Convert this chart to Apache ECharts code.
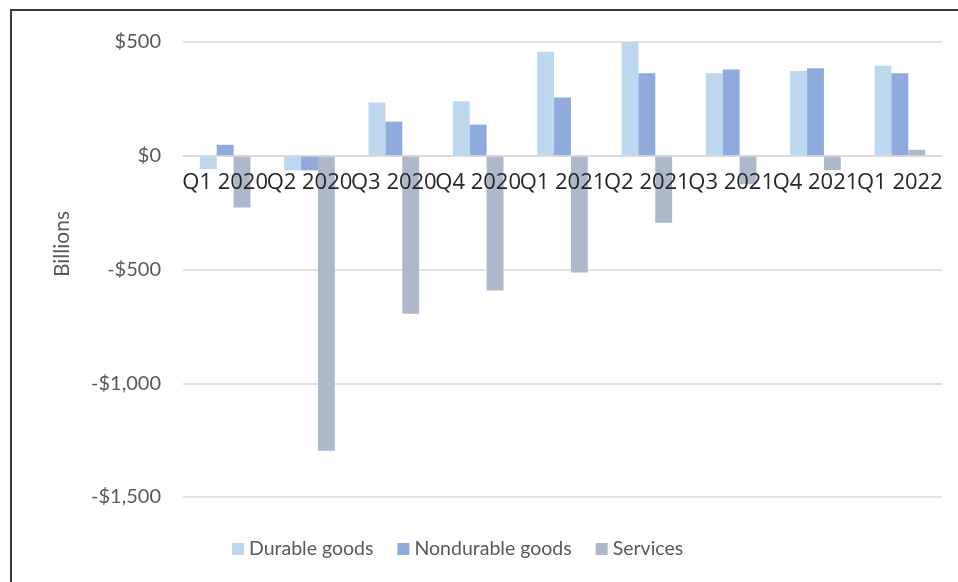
<!DOCTYPE html>
<html>
<head>
<meta charset="utf-8">
<script src="https://cdn.jsdelivr.net/npm/echarts@6/dist/echarts.min.js"></script>
<style>
html,body{margin:0;padding:0;background:#fff;}
#chart{width:958px;height:582px;}
</style>
</head>
<body>
<div id="chart"></div>
<script>
const categories = ['Q1 2020','Q2 2020','Q3 2020','Q4 2020','Q1 2021','Q2 2021','Q3 2021','Q4 2021','Q1 2022'];
const durableGoods = [-58, -64, 234, 240, 457, 501, 363, 373, 396];
const nondurableGoods = [48, -64, 150, 137, 256, 363, 379, 385, 363];
const services = [-227, -1297, -694, -592, -513, -294, -125, -63, 26];
const yTicks = {min: -1500, max: 500, interval: 500};

const FONT = 'Lato';
const chart = echarts.init(document.getElementById('chart'), null, {renderer: 'canvas'});
const fmt = v => {
  const a = Math.abs(v).toLocaleString('en-US');
  return (v < 0 ? '-$' : '$') + a;
};
// plot spans y=42 (top) to y=497 (bottom); category axis sits on the zero line
const gridTop = 42, gridBottomY = 497;
const zeroOffset = -(gridBottomY - gridTop) * (0 - yTicks.min) / (yTicks.max - yTicks.min);

chart.setOption({
  backgroundColor: '#ffffff',
  animation: false,
  textStyle: {fontFamily: FONT},
  grid: {left: 183, right: 16, top: gridTop, bottom: 582 - gridBottomY, containLabel: false},
  legend: {
    left: 227, top: 534,
    itemWidth: 12, itemHeight: 12, itemGap: 24,
    icon: 'rect',
    textStyle: {fontFamily: FONT, fontSize: 19.5, color: '#595959'},
    data: ['Durable goods', 'Nondurable goods', 'Services']
  },
  xAxis: {
    type: 'category',
    data: categories,
    offset: zeroOffset,
    z: 10,
    axisLine: {onZero: false, lineStyle: {color: '#D9D9D9', width: 1.5}},
    axisTick: {show: false},
    axisLabel: {interval: 0, margin: 16, fontFamily: 'Open Sans', fontSize: 22, color: '#262626'}
  },
  yAxis: {
    type: 'value',
    min: yTicks.min, max: yTicks.max, interval: yTicks.interval,
    axisLine: {show: false},
    axisTick: {show: false},
    splitLine: {lineStyle: {color: '#D9D9D9', width: 1.5}},
    axisLabel: {formatter: fmt, margin: 22, fontFamily: FONT, fontSize: 20, color: '#595959'}
  },
  graphic: [
    {type: 'text', left: 52, top: 211, rotation: Math.PI/2,
     style: {text: 'Billions', fontFamily: FONT, fontSize: 21, fill: '#595959'}},
    {type: 'line', shape: {x1: 11, y1: 10, x2: 11, y2: 582}, style: {stroke: '#3a3a3a', lineWidth: 2}},
    {type: 'line', shape: {x1: 10, y1: 10, x2: 958, y2: 10}, style: {stroke: '#3a3a3a', lineWidth: 2}}
  ],
  series: [
    {name: 'Durable goods', type: 'bar', data: durableGoods, barGap: '0%', barCategoryGap: '40%', itemStyle: {color: '#BDD7EE'}},
    {name: 'Nondurable goods', type: 'bar', data: nondurableGoods, barGap: '0%', barCategoryGap: '40%', itemStyle: {color: '#8FAADC'}},
    {name: 'Services', type: 'bar', data: services, barGap: '0%', barCategoryGap: '40%', itemStyle: {color: '#ADB9CA'}}
  ]
});
</script>
</body>
</html>
